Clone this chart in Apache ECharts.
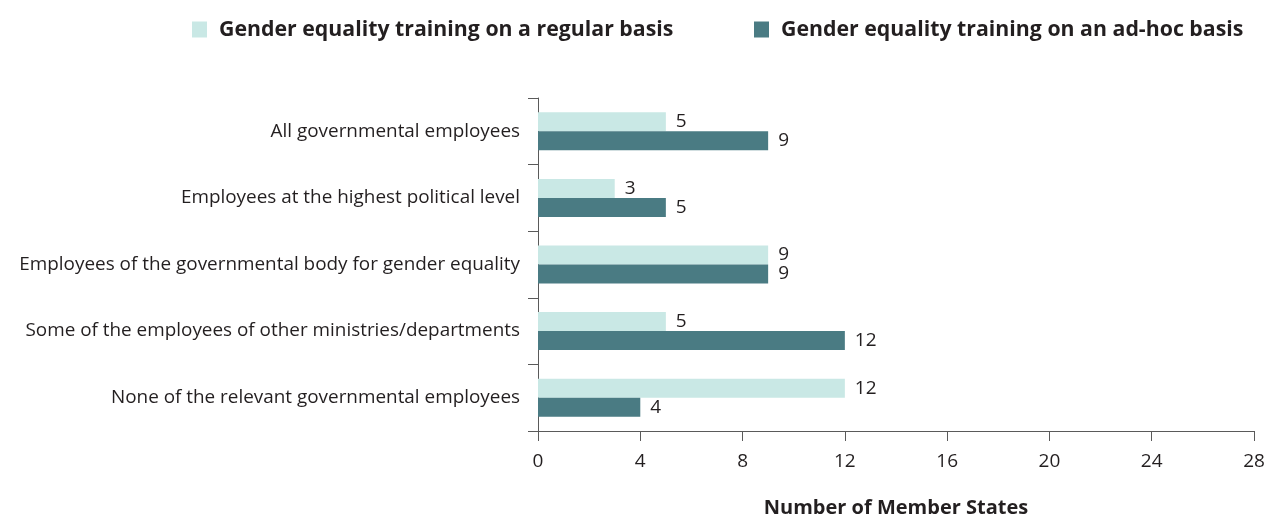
<!DOCTYPE html>
<html><head><meta charset="utf-8">
<script src="https://cdn.jsdelivr.net/npm/echarts@6/dist/echarts.min.js"></script>
<style>html,body{margin:0;padding:0;background:#fff}#c{width:1269px;height:520px}</style>
</head><body><div id="c"></div>
<script>
const categories = [
  "All governmental employees",
  "Employees at the highest political level",
  "Employees of the governmental body for gender equality",
  "Some of the employees of other ministries/departments",
  "None of the relevant governmental employees"
];
const seriesNames = ["Gender equality training on a regular basis", "Gender equality training on an ad-hoc basis"];
const regularValues = [5, 3, 9, 5, 12];
const adhocValues = [9, 5, 9, 12, 4];
const xTicks = [0, 4, 8, 12, 16, 20, 24, 28];

const font = "'Open Sans', 'Noto Sans', sans-serif";
const txt = '#231f20';
const axisCol = '#5a5a5a';
const chart = echarts.init(document.getElementById('c'));
const lbl = { show: true, position: 'right', distance: 10, color: txt, fontSize: 19, fontFamily: font };
const legText = { fontSize: 21.3, fontWeight: 'bold', color: txt, fontFamily: font, padding: [0, 0, 0, 7] };
chart.setOption({
  animation: false,
  textStyle: { fontFamily: font },
  legend: [
    { data: [seriesNames[0]], left: 187, top: 14, itemWidth: 15, itemHeight: 16, icon: 'rect', textStyle: legText },
    { data: [seriesNames[1]], left: 749, top: 14, itemWidth: 15, itemHeight: 16, icon: 'rect', textStyle: legText }
  ],
  grid: { left: 538, right: 15, top: 98, bottom: 89, containLabel: false, outerBoundsMode: 'none' },
  xAxis: {
    type: 'value', min: xTicks[0], max: xTicks[xTicks.length - 1], interval: 4,
    name: 'Number of Member States', nameLocation: 'middle', nameGap: 67,
    nameTextStyle: { fontSize: 20, fontWeight: 'bold', color: txt, fontFamily: font },
    axisLine: { show: true, lineStyle: { color: axisCol, width: 1 } },
    axisTick: { show: true, length: 10, lineStyle: { color: axisCol } },
    axisLabel: { margin: 21, fontSize: 19, color: txt, fontFamily: font },
    splitLine: { show: false }
  },
  yAxis: {
    type: 'category', data: categories, inverse: true,
    axisLine: { show: true, lineStyle: { color: axisCol, width: 1 } },
    axisTick: { show: true, length: 10, lineStyle: { color: axisCol } },
    axisLabel: { margin: 18, fontSize: 18.9, color: txt, fontFamily: font }
  },
  series: [
    { name: seriesNames[0], type: 'bar', data: regularValues, barWidth: 19, barGap: '0%',
      itemStyle: { color: '#c9e8e5' }, label: lbl },
    { name: seriesNames[1], type: 'bar', data: adhocValues, barWidth: 19, barGap: '0%',
      itemStyle: { color: '#4a7b83' }, label: lbl }
  ]
});
</script></body></html>
